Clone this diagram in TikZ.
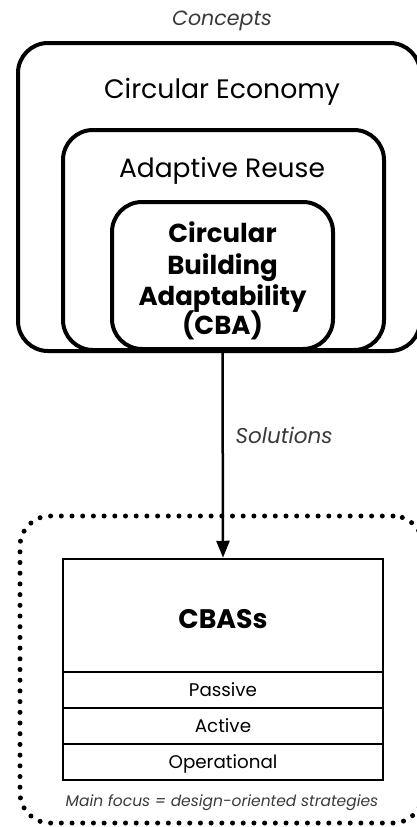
\documentclass[tikz,border=0pt]{standalone}
\usepackage{fontspec}
\setmainfont{Poppins}
\usetikzlibrary{arrows.meta}
\definecolor{notegray}{HTML}{3A3A3A}
\begin{document}
\begin{tikzpicture}[x=1pt,y=-1pt,
  frame/.style={draw, line width=4pt, rounded corners=30pt, fill=white, inner sep=0pt},
  cell/.style={draw, line width=2.5pt, inner sep=0pt, minimum width=320pt,
    text height=13pt, text depth=0pt, font=\fontsize{18.3}{20}\selectfont},
  note/.style={anchor=base, text=notegray, font=\itshape\fontsize{#1}{#1}\selectfont},
  title/.style={anchor=base, font=\fontsize{#1}{#1}\selectfont},
  boldline/.style={anchor=base, font=\bfseries\fontsize{#1}{#1}\selectfont},
  dots/.style={draw, line width=5pt, line cap=round, dash pattern=on 0pt off 10.7pt,
    rounded corners=30pt, inner sep=0pt}]
\useasboundingbox (0,0) rectangle (416,827);

% nested concept frames
\node[frame, minimum width=402pt, minimum height=308pt] (ce) at (219,197) {};
\node[frame, minimum width=321pt, minimum height=220pt] (ar) at (223.5,240) {};
\node[frame, minimum width=221pt, minimum height=147pt] (cba) at (222.5,275.5) {};

\node[note=20.6] (concepts) at (222,25) {Concepts};
\node[title=26.7] (cetxt) at (222,98) {Circular Economy};
\node[title=26.5] (artxt) at (222,177) {Adaptive Reuse};
\node[boldline=26] (cba1) at (222.5,242) {Circular};
\node[boldline=26] (cba2) at (222.5,274) {Building};
\node[boldline=26] (cba3) at (222.5,305) {Adaptability};
\node[boldline=26] (cba4) at (222.5,334) {(CBA)};

% dotted focus area
\node[dots, minimum width=403pt, minimum height=307pt] (focus) at (221.5,669.5) {};

% strategies table
\node[draw, line width=2.5pt, inner sep=0pt, minimum width=320pt, minimum height=113pt] (cbas) at (223,615.5) {};
\node[boldline=26.8] (cbastxt) at (223,628) {CBASs};
\node[cell, minimum height=36pt] (passive) at (223,690) {Passive};
\node[cell, minimum height=36pt] (active) at (223,726) {Active};
\node[cell, minimum height=36pt] (oper) at (223,762) {Operational};
\node[note=15.5] (mainfocus) at (222,806) {Main focus = design-oriented strategies};

% link from concept to solutions
\draw[line width=2.5pt, -{Triangle[length=17pt,width=13pt]}] (cba.south) -- (cbas.north);
\node[note=21.5, anchor=base west] (solutions) at (232,443) {Solutions};
\end{tikzpicture}
\end{document}
